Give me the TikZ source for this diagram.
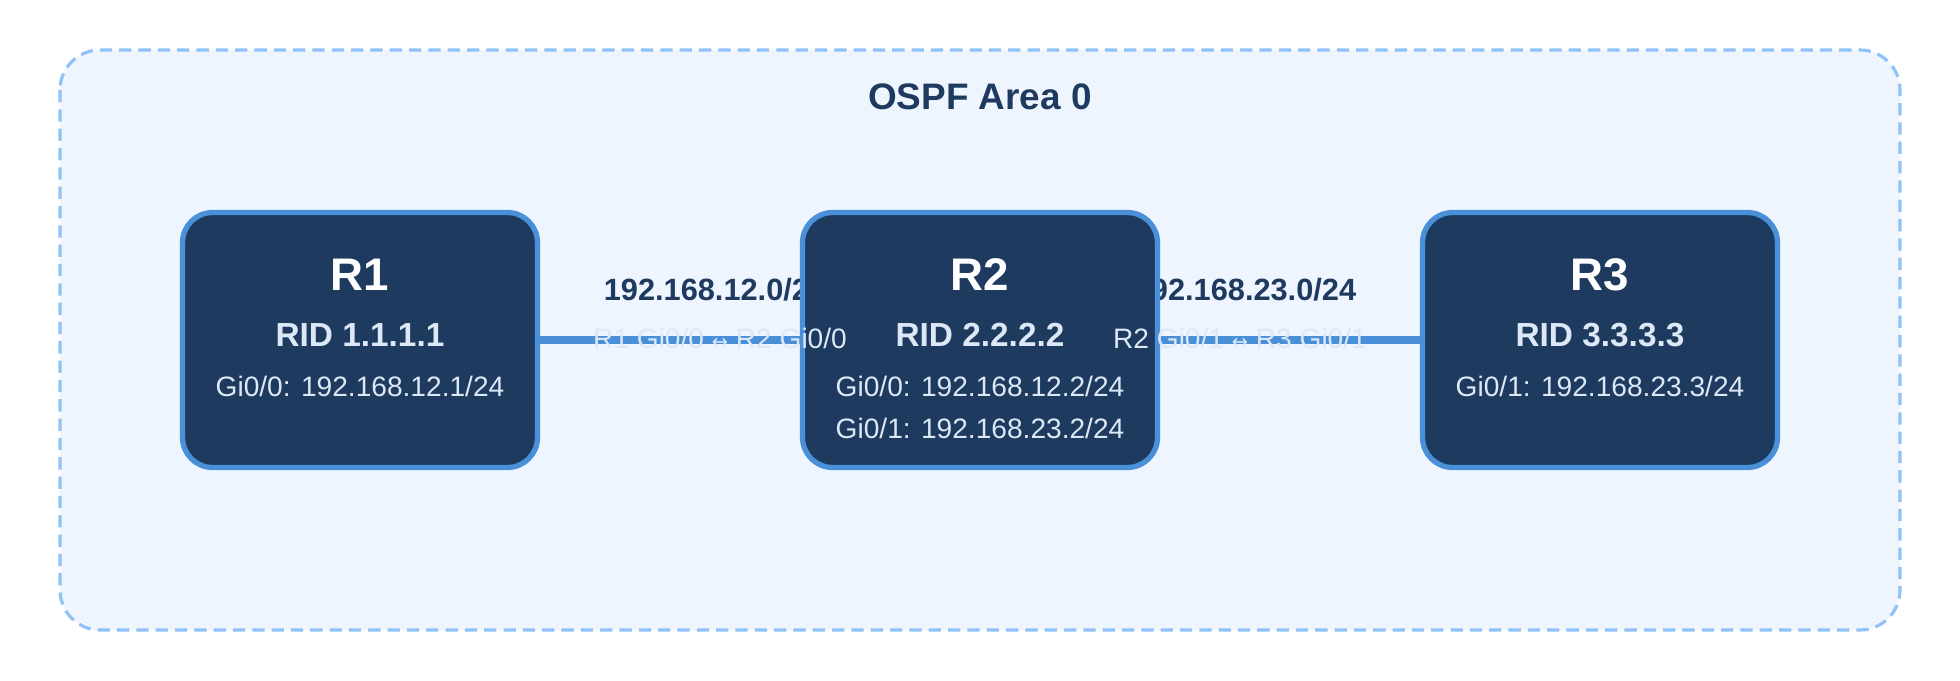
\documentclass[tikz,border=0pt]{standalone}
\usepackage{fontspec}
\setmainfont{Liberation Sans}
\newfontfamily\arrowfont{DejaVu Sans}
\definecolor{navy}{HTML}{1E3A5F}
\definecolor{linkblue}{HTML}{4A90D9}
\definecolor{areafill}{HTML}{EEF5FF}
\definecolor{areadash}{HTML}{90C2F7}
\definecolor{softtext}{HTML}{DCE8F5}
\begin{document}
\begin{tikzpicture}[x=0.02cm, y=-0.02cm,
    router/.style={draw=linkblue, line width=3pt, fill=navy, rounded corners=0.6cm,
      minimum width=7.1cm, minimum height=5.1cm, inner sep=0pt},
    rname/.style={text=white, font=\bfseries\fontsize{26}{30}\selectfont},
    rid/.style={text=softtext, font=\bfseries\fontsize{19}{22}\selectfont},
    iface/.style={text=softtext, font=\fontsize{16}{19}\selectfont},
    link/.style={draw=linkblue, line width=4pt},
    subnet/.style={text=navy, font=\bfseries\fontsize{17.5}{20}\selectfont},
    ends/.style={text=softtext, font=\fontsize{16}{18}\selectfont},
]
\useasboundingbox (0,0) rectangle (1960,680);
% area
\draw[areadash, fill=areafill, line width=1.8pt, dash pattern=on 7pt off 4pt, rounded corners=0.8cm]
  (60,50) rectangle (1900,630);
\node[text=navy, font=\bfseries\fontsize{21}{24}\selectfont] (title) at (980,97) {OSPF Area 0};

% links and subnets
\coordinate (r1e) at (540,340);
\coordinate (r2w) at (800,340);
\coordinate (r2e) at (1160,340);
\coordinate (r3w) at (1420,340);
\draw[link] (r1e) -- (r2w);
\draw[link] (r2e) -- (r3w);
\node[subnet] (net12) at (715,290) {192.168.12.0/24};
\node[subnet] (net23) at (1245,290) {192.168.23.0/24};

% routers
\node[router] (R1) at (360,340) {};
\node[router] (R2) at (980,340) {};
\node[router] (R3) at (1600,340) {};

\node[rname] (R1n) at (360,275) {R1};
\node[rid] (R1r) at (360,335) {RID 1.1.1.1};
\node[iface] (R1i) at (360,386) {Gi0/0: 192.168.12.1/24};

\node[rname] (R2n) at (980,275) {R2};
\node[rid] (R2r) at (980,335) {RID 2.2.2.2};
\node[iface] (R2i) at (980,386) {Gi0/0: 192.168.12.2/24};
\node[iface] (R2j) at (980,428) {Gi0/1: 192.168.23.2/24};

\node[rname] (R3n) at (1600,275) {R3};
\node[rid] (R3r) at (1600,335) {RID 3.3.3.3};
\node[iface] (R3i) at (1600,386) {Gi0/1: 192.168.23.3/24};

% link ends
\node[ends] (e12) at (720,338) {R1 Gi0/0 {\arrowfont\fontsize{11}{14}\selectfont↔} R2 Gi0/0};
\node[ends] (e23) at (1240,338) {R2 Gi0/1 {\arrowfont\fontsize{11}{14}\selectfont↔} R3 Gi0/1};
\end{tikzpicture}
\end{document}
